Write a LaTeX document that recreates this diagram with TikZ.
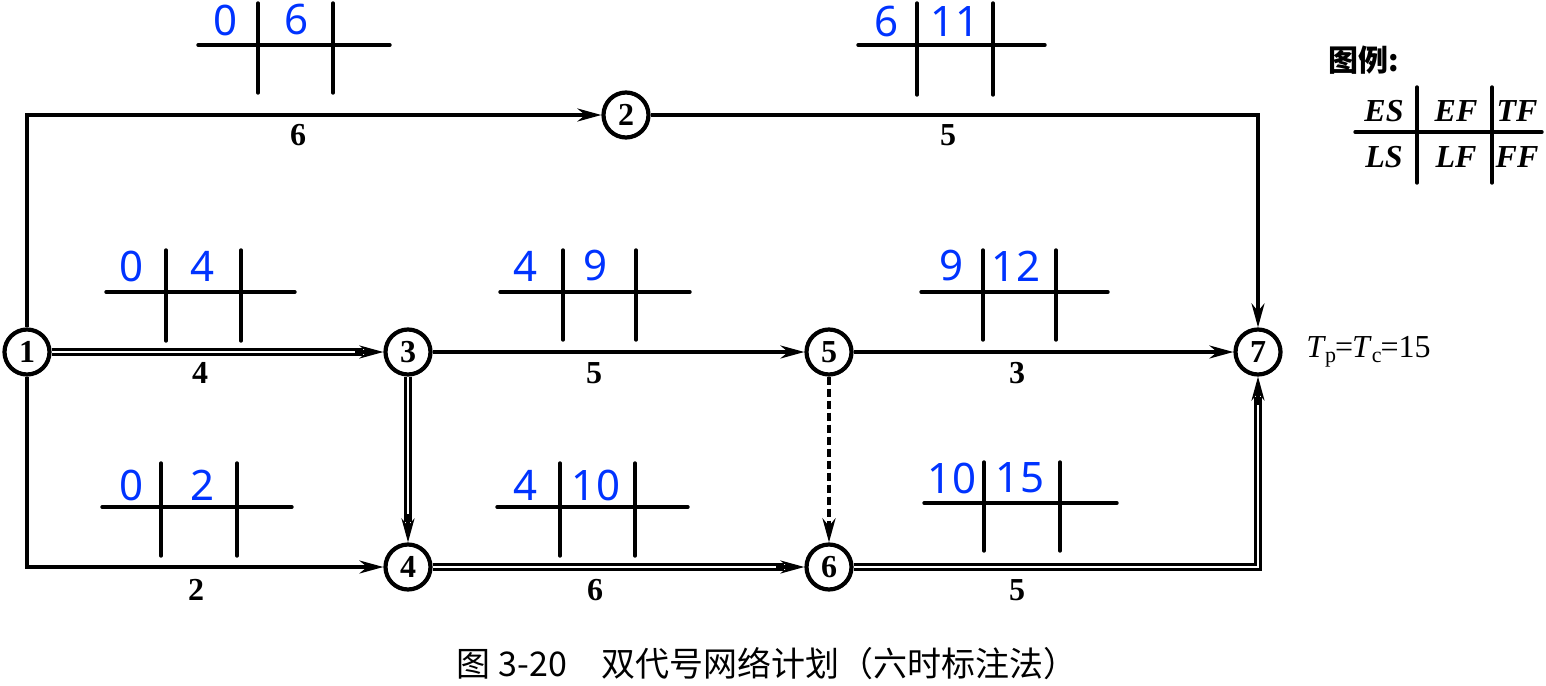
\documentclass[tikz,border=0pt]{standalone}
\usepackage{fontspec}
\setmainfont{Liberation Serif}
\newfontfamily\cjk{Noto Sans CJK SC}
\newfontfamily\numfont{Noto Sans}
\usetikzlibrary{arrows.meta}
\definecolor{numblue}{RGB}{0,51,255}
\tikzset{
  evt/.style={circle,draw,line width=2.1pt,minimum size=22.5pt,inner sep=0pt,font=\bfseries\fontsize{16}{16}\selectfont},
  act/.style={line width=1.7pt,-{Stealth[length=12pt,width=6.5pt]}},
  crit/.style={line width=1.4pt,double,double distance=0.9pt,shorten >=10pt},
  tiponly/.style={line width=1.7pt,-{Stealth[length=12pt,width=6.5pt]}},
  dum/.style={line width=1.9pt,dash pattern=on 4pt off 2pt,-{Stealth[length=12pt,width=6.5pt]}},
  dur/.style={font=\bfseries\fontsize{16}{16}\selectfont},
  gridln/.style={line width=1.7pt,line cap=round},
  tnum/.style={text=numblue,font=\numfont\fontsize{21}{21}\selectfont,inner sep=0pt},
  leg/.style={font=\bfseries\itshape\fontsize{16}{16}\selectfont,inner sep=0pt}
}
\begin{document}
\begin{tikzpicture}[x=0.5pt,y=-0.5pt]
\useasboundingbox (0,0) rectangle (1546,685);
% events
\node[evt] (n1) at (27,352) {1};
\node[evt] (n2) at (626,115) {2};
\node[evt] (n3) at (408,352) {3};
\node[evt] (n4) at (408,567) {4};
\node[evt] (n5) at (829,352) {5};
\node[evt] (n6) at (829,567) {6};
\node[evt] (n7) at (1258,352) {7};
% activities
\draw[act] (n1) |- (n2);
\draw[act] (n2) -| (n7);
\draw[act] (n3) -- (n5);
\draw[act] (n5) -- (n7);
\draw[act] (n1) |- (n4);
\draw[dum] (n5) -- (n6);
% critical activities (double lines)
\draw[crit] (n1) -- (n3);
\draw[tiponly] ([xshift=-14pt]n3.west) -- (n3);
\draw[crit] (n3) -- (n4);
\draw[tiponly] ([yshift=14pt]n4.north) -- (n4);
\draw[crit] (n4) -- (n6);
\draw[tiponly] ([xshift=-14pt]n6.west) -- (n6);
\draw[crit] (n6) -| (n7);
\draw[tiponly] ([yshift=-14pt]n7.south) -- (n7);
% durations
\node[dur] (d12) at (298,135) {6};
\node[dur] (d27) at (948,135) {5};
\node[dur] (d13) at (200,373) {4};
\node[dur] (d35) at (594,373) {5};
\node[dur] (d57) at (1017,373) {3};
\node[dur] (d14) at (196,590) {2};
\node[dur] (d46) at (595,590) {6};
\node[dur] (d67) at (1017,590) {5};
% time parameter grids
\draw[gridln] (198,45) -- (390,45) (258,3) -- (258,93) (333,3) -- (333,93);
\node[tnum] (t12a) at (226,20) {0};
\node[tnum] (t12b) at (297,20) {6};
\draw[gridln] (858,45) -- (1045,45) (917,3) -- (917,95) (993,3) -- (993,95);
\node[tnum] (t27a) at (886,22) {6};
\node[tnum] (t27b) at (955,22) {11};
\draw[gridln] (106,292) -- (295,292) (166,250) -- (166,341) (241,250) -- (241,341);
\node[tnum] (t13a) at (132,266) {0};
\node[tnum] (t13b) at (203,266) {4};
\draw[gridln] (500,292) -- (690,292) (563,250) -- (563,340) (636,250) -- (636,340);
\node[tnum] (t35a) at (526,266) {4};
\node[tnum] (t35b) at (596,266) {9};
\draw[gridln] (921,292) -- (1108,292) (983,250) -- (983,340) (1056,250) -- (1056,340);
\node[tnum] (t57a) at (951,266) {9};
\node[tnum] (t57b) at (1016,266) {12};
\draw[gridln] (102,507) -- (292,507) (161,463) -- (161,556) (237,463) -- (237,556);
\node[tnum] (t14a) at (132,485) {0};
\node[tnum] (t14b) at (203,485) {2};
\draw[gridln] (497,507) -- (688,507) (560,463) -- (560,556) (635,463) -- (635,556);
\node[tnum] (t46a) at (526,485) {4};
\node[tnum] (t46b) at (596,485) {10};
\draw[gridln] (924,503) -- (1117,503) (984,462) -- (984,551) (1060,462) -- (1060,551);
\node[tnum] (t67a) at (952,478) {10};
\node[tnum] (t67b) at (1020,478) {15};
% Tp = Tc
\node[anchor=west,font=\fontsize{16}{16}\selectfont,inner sep=0pt] (tp) at (1306,352)
  {\textit{T}\kern-0.5pt\raisebox{-0.35ex}{\fontsize{11}{11}\selectfont p}\kern-0.5pt=\kern-0.5pt\textit{T}\raisebox{-0.35ex}{\fontsize{11}{11}\selectfont c}\kern-0.5pt=15};
% legend
\node[font=\cjk\bfseries\fontsize{15}{15}\selectfont,inner sep=0pt] (legt) at (1364,60) {图例:};
\draw[gridln] (1355,132) -- (1542,132) (1417,87) -- (1417,183) (1492,87) -- (1492,183);
\node[leg] (les) at (1384,111) {ES};
\node[leg] (lef) at (1456,111) {EF};
\node[leg] (ltf) at (1517,111) {TF};
\node[leg] (lls) at (1384,157) {LS};
\node[leg] (llf) at (1456,157) {LF};
\node[leg] (lff) at (1517,157) {FF};
% caption
\node[font=\cjk\fontsize{17}{17}\selectfont,inner sep=0pt] (cap) at (767,664) {图 3-20\hspace{1em}双代号网络计划（六时标注法）};
\end{tikzpicture}
\end{document}
